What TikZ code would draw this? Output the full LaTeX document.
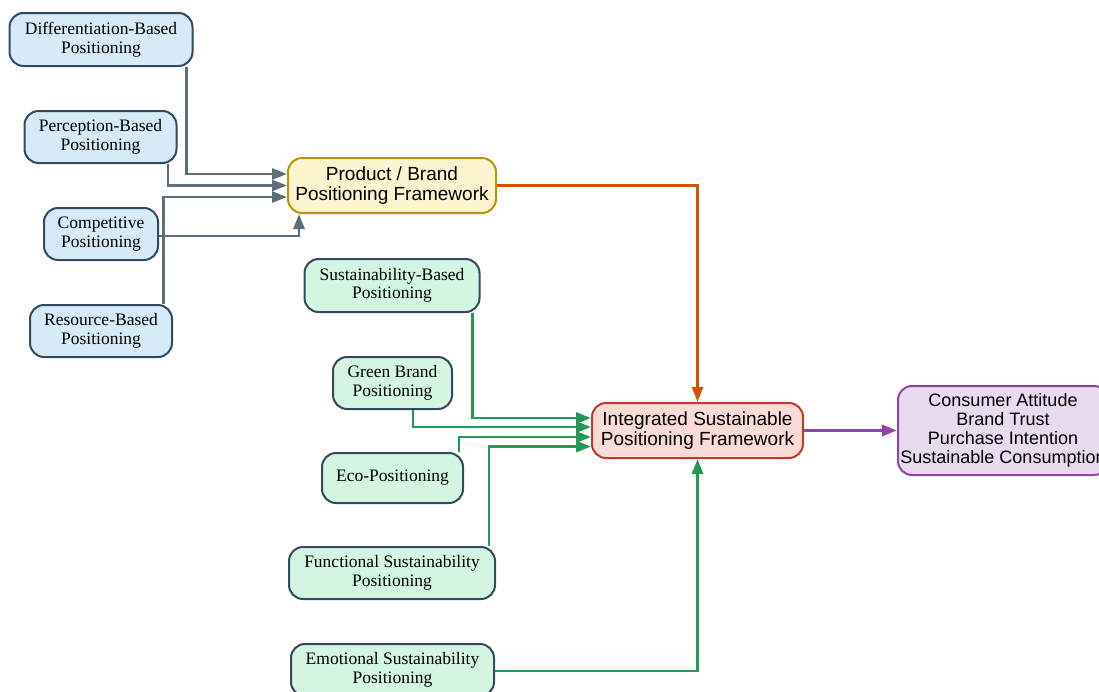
\documentclass[tikz,border=0pt]{standalone}
\usepackage{fontspec}
\setmainfont{Liberation Serif}
\newfontfamily\sansf{Liberation Sans}
\usetikzlibrary{arrows.meta,calc}
\definecolor{bluefill}{HTML}{D6EAF8}
\definecolor{boxline}{HTML}{34495E}
\definecolor{grayarr}{HTML}{5D6D7E}
\definecolor{pbffill}{HTML}{FCF3CF}
\definecolor{pbfline}{HTML}{B7950B}
\definecolor{greenfill}{HTML}{D5F5E3}
\definecolor{greenarr}{HTML}{229954}
\definecolor{ispffill}{HTML}{FADBD8}
\definecolor{ispfline}{HTML}{C0392B}
\definecolor{orangearr}{HTML}{D35400}
\definecolor{purpline}{HTML}{8E44AD}
\definecolor{purpfill}{HTML}{E8DAEF}
\tikzset{
  basebox/.style={rounded corners=14pt, line width=2pt, align=center, inner sep=0pt},
  smallfont/.style={font=\fontsize{17.5}{18.5}\selectfont},
  bigfont/.style={font=\sansf\fontsize{19}{20.5}\selectfont},
  bluebox/.style={basebox, smallfont, draw=boxline, fill=bluefill},
  greenbox/.style={basebox, smallfont, draw=boxline, fill=greenfill},
  pbfbox/.style={basebox, bigfont, draw=pbfline, fill=pbffill},
  ispfbox/.style={basebox, bigfont, draw=ispfline, fill=ispffill},
  outbox/.style={basebox, font=\sansf\fontsize{18}{19}\selectfont, draw=purpline, fill=purpfill},
  sz/.style 2 args={minimum width=#1pt, minimum height=#2pt},
  tip/.style={-{Triangle[length=15pt,width=11pt]}},
  grayconn/.style={tip, draw=grayarr, line width=2.8pt},
  greenconn/.style={tip, draw=greenarr, line width=2.8pt},
  orangeconn/.style={tip, draw=orangearr, line width=2.8pt},
  purpconn/.style={tip, draw=purpline, line width=2.8pt}
}
\begin{document}
\begin{tikzpicture}[x=1pt,y=-1pt]
\useasboundingbox (0,0) rectangle (1099,691);
\clip (0,0) rectangle (1099,691);
% left blue nodes
\node[bluebox, sz={183}{53}] (diff) at (101,39.5) {Differentiation-Based\\Positioning};
\node[bluebox, sz={152}{52}] (perc) at (100.5,137) {Perception-Based\\Positioning};
\node[bluebox, sz={114}{52}] (comp) at (101,234) {Competitive\\Positioning};
\node[bluebox, sz={142}{52}] (res) at (101,331) {Resource-Based\\Positioning};
% frameworks
\node[pbfbox, sz={208}{55}] (pbf) at (392,185.5) {Product / Brand\\Positioning Framework};
\node[ispfbox, sz={211}{55}] (ispf) at (697.5,430.5) {Integrated Sustainable\\Positioning Framework};
\node[outbox, sz={210}{89}] (cons) at (1003,430.5) {Consumer Attitude\\Brand Trust\\Purchase Intention\\Sustainable Consumption};
% green nodes
\node[greenbox, sz={175}{53}] (sust) at (392,285.5) {Sustainability-Based\\Positioning};
\node[greenbox, sz={119}{52}] (green) at (392.5,383) {Green Brand\\Positioning};
\node[greenbox, sz={141}{50}] (eco) at (392.5,478) {Eco-Positioning};
\node[greenbox, sz={206}{52}] (func) at (392,573) {Functional Sustainability\\Positioning};
\node[greenbox, sz={203}{52}] (emo) at (392.5,670) {Emotional Sustainability\\Positioning};
% gray connectors
\draw[grayconn] ([xshift=-7pt]diff.south east) |- ([yshift=11.5pt]pbf.west);
\draw[grayconn] ([xshift=-9.5pt]perc.south east) |- (pbf.west);
\draw[grayconn] ([xshift=-9.5pt]res.north east) |- ([yshift=-11.5pt]pbf.west);
\draw[grayconn] ([yshift=-2pt]comp.east) -| ([xshift=-93pt]pbf.south);
% orange
\draw[orangeconn] (pbf.east) -| (ispf.north);
% green connectors
\draw[greenconn] ([xshift=-8pt]sust.south east) |- ([yshift=12.5pt]ispf.west);
\draw[greenconn] ([xshift=20.5pt]green.south) |- ([yshift=3.5pt]ispf.west);
\draw[greenconn] ([xshift=-5pt]eco.north east) |- ([yshift=-6.5pt]ispf.west);
\draw[greenconn] ([xshift=-7pt]func.north east) |- ([yshift=-16pt]ispf.west);
\draw[greenconn] ([yshift=-1pt]emo.east) -| (ispf.south);
% purple
\draw[purpconn] (ispf.east) -- (cons.west);
\end{tikzpicture}
\end{document}
